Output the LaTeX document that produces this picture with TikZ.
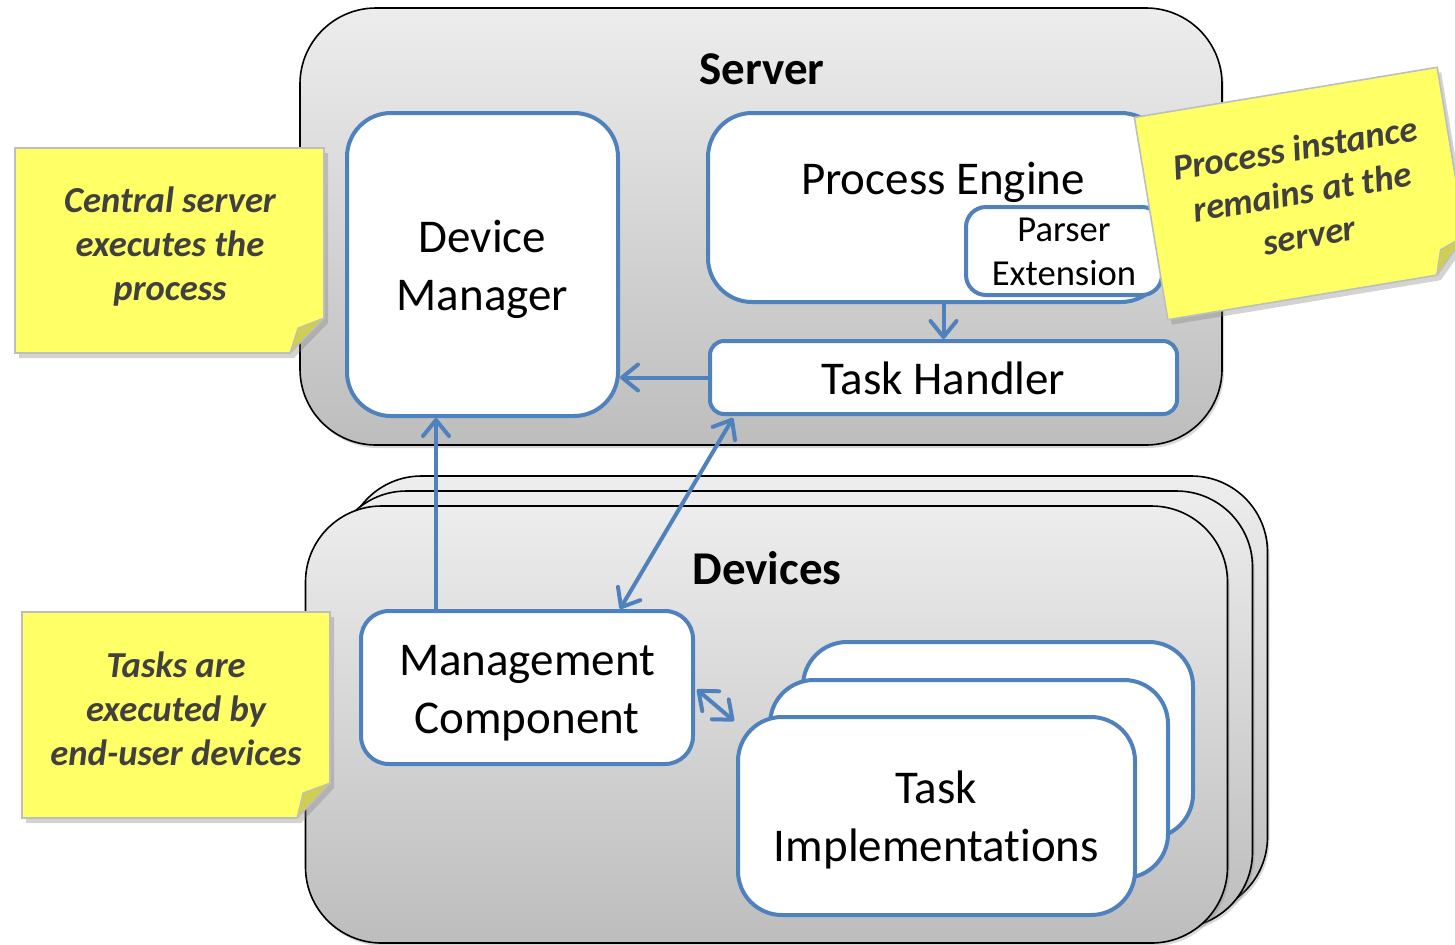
\documentclass[tikz,border=0pt]{standalone}
\usepackage{fontspec}
\setmainfont{Carlito}[Ligatures=NoCommon]
\usetikzlibrary{arrows.meta,shadows,calc}

\definecolor{boxblue}{RGB}{79,129,189}
\definecolor{notefill}{RGB}{255,255,102}
\definecolor{notefold}{RGB}{206,206,84}
\definecolor{noteline}{RGB}{190,190,190}
\definecolor{notetext}{RGB}{64,64,64}
\definecolor{panelTop}{RGB}{237,237,237}
\definecolor{panelBot}{RGB}{189,189,189}

% multi-line label, lowered a little inside its box without changing the box size
\newcommand\boxlines[2][2.5pt]{\raisebox{-#1}[\height][\depth]{\begin{tabular}{@{}c@{}}#2\end{tabular}}}

\tikzset{
  panel/.style={draw=black, line width=0.8pt, top color=panelTop, bottom color=panelBot,
    rounded corners=38pt, inner sep=0pt, minimum width=461pt, minimum height=218.5pt,
    drop shadow={opacity=0.3, shadow xshift=1pt, shadow yshift=-1.5pt}},
  paneltitle/.style={font=\fontsize{23.5}{29}\selectfont\bfseries},
  comp/.style={draw=boxblue, line width=2pt, fill=white, inner sep=0pt, align=center,
    font=\fontsize{23.5}{29}\selectfont},
  smallcomp/.style={comp, font=\fontsize{18.3}{22}\selectfont},
  tip/.tip={Straight Barb[round, length=8pt, width=13pt]},
  flow/.style={draw=boxblue, line width=2pt, -tip},
  twoway/.style={draw=boxblue, line width=2pt, tip-tip},
  notepaper/.style={fill=notefill, draw=noteline, line width=0.8pt,
    drop shadow={opacity=0.35, shadow xshift=2pt, shadow yshift=-2.5pt}},
  notecorner/.style={fill=notefold, draw=noteline, line width=0.6pt, line join=round},
  notetxt/.style={align=center, text=notetext, font=\fontsize{18.3}{22}\selectfont\bfseries\itshape},
}

\begin{document}
\begin{tikzpicture}[x=0.5pt, y=-0.5pt]
\clip (0,0) rectangle (1455,944);

% ---------- server ----------
\node[panel] (server) at (761,226.5) {};
\node[paneltitle] (servertitle) at (762,69) {Server};

\node[comp, minimum width=135.5pt, minimum height=151.5pt, rounded corners=22pt]
  (dm) at (482.5,264.5) {\boxlines{Device\\Manager}};
\node[comp, minimum width=228.5pt, minimum height=94.5pt, rounded corners=22pt]
  (pe) at (936.5,207.5) {};
\node[font=\fontsize{23.5}{29}\selectfont] (petitle) at (943,182.5) {Process Engine};
\node[smallcomp, minimum width=98pt, minimum height=44pt, rounded corners=10pt]
  (px) at (1064,251) {\boxlines[2pt]{Parser\\Extension}};
\node[comp, minimum width=233.5pt, minimum height=36.5pt, rounded corners=7pt]
  (th) at (943.5,377.5) {\boxlines[2.5pt]{Task Handler}};

% ---------- devices (stack of three) ----------
\node[panel] (dev3) at (806.5,694.5) {};
\node[panel] (dev2) at (791.5,709.5) {};
\node[panel] (dev1) at (766.5,724.5) {};
\node[paneltitle] (devtitle) at (767,568) {Devices};

\node[comp, minimum width=166pt, minimum height=76.5pt, rounded corners=14pt]
  (mc) at (527,687.5) {\boxlines{Management\\Component}};

\node[comp, minimum width=195pt, minimum height=98pt, rounded corners=22pt] (ti3) at (998,740) {};
\node[comp, minimum width=199pt, minimum height=99pt, rounded corners=22pt] (ti2) at (969,779) {};
\node[comp, minimum width=198.5pt, minimum height=99pt, rounded corners=22pt]
  (ti1) at (936.5,816) {\boxlines{Task\\Implementations}};

% ---------- connectors ----------
\draw[flow] (th.north |- pe.south) -- (th.north);
\draw[flow] (th.west) -- (th.west -| dm.east);
\draw[flow] ([xshift=-45.5pt]mc.north) -- ([xshift=-45.5pt]mc.north |- dm.south);
\draw[twoway] ([xshift=46.5pt]mc.north) -- ([xshift=12.5pt,yshift=-1pt]th.south west);
\draw[twoway] ([shift={(1pt,-1pt)}]mc.east) -- ([shift={(-1pt,-3pt)}]ti1.north west);

% ---------- sticky notes ----------
\path[notepaper] (15,148) -- (324,148) -- (324,318) -- (290,353) -- (15,353) -- cycle;
\path[notecorner] (324,318) -- (298,328) -- (290,353) -- cycle;
\node[notetxt] (note1) at (170,246.5) {Central server\\executes the\\process};

\path[notepaper] (22,612) -- (330,612) -- (330,783) -- (297,818) -- (22,818) -- cycle;
\path[notecorner] (330,783) -- (303,793) -- (297,818) -- cycle;
\node[notetxt] (note2) at (176,709) {Tasks are\\executed by\\end-user devices};

\begin{scope}[shift={(1302.5,193.5)}, rotate=9.4]
  \path[notepaper] (-153.5,-102.5) -- (153.5,-102.5) -- (153.5,68) -- (119,102.5)
    -- (-153.5,102.5) -- cycle;
  \path[notecorner] (153.5,68) -- (127,78) -- (119,102.5) -- cycle;
  \node[notetxt, rotate=9.4] (note3) at (0,-2) {Process instance\\remains at the\\server};
\end{scope}
\end{tikzpicture}
\end{document}
